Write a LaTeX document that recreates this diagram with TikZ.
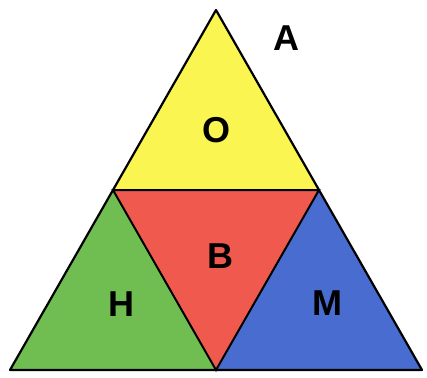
\documentclass[tikz,border=0pt]{standalone}
\usepackage{fontspec}
\setmainfont{Liberation Sans}
\usepackage{tikz}
\usepackage{xcolor}
\definecolor{topyellow}{RGB}{250,245,80}
\definecolor{midred}{RGB}{240,90,78}
\definecolor{leftgreen}{RGB}{112,190,82}
\definecolor{rightblue}{RGB}{72,108,208}

\begin{document}
\begin{tikzpicture}[x=1pt,y=1pt,every node/.style={font=\fontsize{36}{36}\selectfont\bfseries}]
\useasboundingbox (0,0) rectangle (427,-377);
\coordinate (apex) at (216,-10);
\coordinate (bl) at (10,-370);
\coordinate (br) at (422,-370);
\coordinate (ml) at (113,-190);
\coordinate (mr) at (319,-190);
\coordinate (mb) at (216,-370);
\fill[topyellow] (apex) -- (ml) -- (mr) -- cycle;
\fill[midred] (ml) -- (mr) -- (mb) -- cycle;
\fill[leftgreen] (ml) -- (mb) -- (bl) -- cycle;
\fill[rightblue] (mr) -- (br) -- (mb) -- cycle;
\draw[line width=2.2pt,line join=round] (apex) -- (br) -- (bl) -- cycle;
\draw[line width=2pt] (ml) -- (mr) -- (mb) -- cycle;
\node (labO) at (216,-130) {O};
\node (labB) at (220,-256) {B};
\node (labH) at (121,-304) {H};
\node (labM) at (327,-303) {M};
\node (labA) at (286,-38) {A};
\end{tikzpicture}
\end{document}
